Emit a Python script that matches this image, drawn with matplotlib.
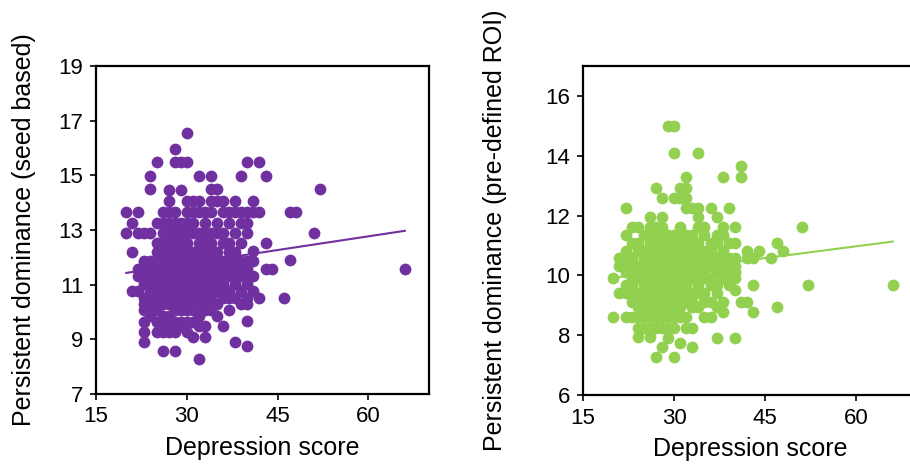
import numpy as np
import matplotlib
matplotlib.use('Agg')
import matplotlib.pyplot as plt

plt.rcParams['font.family'] = ['Liberation Sans', 'DejaVu Sans']

PURPLE = '#7030A0'
GREEN = '#92D050'

# depression score columns and the persistent-dominance values read at each score
left_scores = [20, 21, 22, 23, 24, 25, 26, 27, 28, 29, 30, 31, 32, 33, 34, 35,
               36, 37, 38, 39, 40, 41, 42, 43, 44, 46, 47, 48, 51, 52, 66]
left_values = [
    [13.66, 12.88],
    [13.25, 12.19, 10.78],
    [13.66, 12.88, 11.58, 11.3, 10.78],
    [12.88, 11.88, 11.58, 11.3, 11.03, 10.53, 10.3, 10.08, 9.65, 9.28, 8.92],
    [14.96, 14.5, 12.88, 11.88, 11.58, 11.3, 11.03, 10.78, 10.53, 10.3, 10.08, 9.86],
    [15.47, 13.25, 12.54, 12.19, 11.88, 11.58, 11.3, 11.03, 10.78, 10.53, 10.3, 10.08, 9.65, 9.28],
    [13.66, 13.25, 12.88, 12.54, 12.19, 11.88, 11.58, 11.3, 11.03, 10.78, 10.53, 10.3, 9.86, 9.47, 9.28, 8.59],
    [14.47, 14.07, 13.66, 13.25, 12.88, 12.54, 12.19, 11.88, 11.58, 11.3, 11.03, 10.78, 10.53, 10.3, 9.86, 9.47, 9.28],
    [15.97, 15.47, 13.66, 13.25, 12.88, 12.54, 12.19, 11.88, 11.58, 11.3, 11.03, 10.78, 10.53, 10.3, 10.08, 9.65, 9.28, 8.59],
    [15.47, 14.47, 13.25, 12.88, 12.54, 12.19, 11.88, 11.58, 11.3, 11.03, 10.78, 10.53, 10.3, 10.08, 9.65, 9.47],
    [16.55, 15.47, 14.07, 13.66, 13.25, 12.88, 12.54, 12.19, 11.88, 11.58, 11.3, 11.03, 10.78, 10.53, 10.3, 10.08, 9.65, 9.28],
    [14.07, 13.66, 13.25, 12.88, 12.19, 11.88, 11.58, 11.3, 11.03, 10.78, 10.53, 10.3, 10.08, 9.65, 9.1],
    [14.96, 14.07, 13.66, 12.88, 12.54, 12.19, 11.88, 11.58, 11.3, 11.03, 10.78, 10.53, 10.3, 9.86, 9.47, 8.28],
    [13.66, 13.25, 12.88, 12.54, 12.19, 11.88, 11.58, 11.3, 11.03, 10.78, 10.53, 10.3, 10.08, 9.47, 9.1],
    [14.96, 14.5, 14.07, 13.66, 12.88, 12.54, 12.19, 11.88, 11.58, 11.3, 11.03, 10.78, 10.53, 10.08],
    [14.5, 14.07, 13.25, 12.88, 12.19, 11.88, 11.58, 11.3, 11.03, 10.78, 10.3, 9.86],
    [14.07, 13.66, 12.88, 12.54, 11.88, 11.58, 11.3, 11.03, 10.78, 10.53, 9.47],
    [13.66, 13.25, 12.54, 12.19, 11.88, 11.58, 11.3, 10.78, 10.53, 10.08],
    [14.07, 13.66, 12.88, 12.19, 11.88, 11.58, 11.3, 11.03, 10.53, 8.92],
    [14.96, 13.66, 13.25, 12.54, 11.88, 11.58, 11.3, 10.78, 10.3],
    [15.47, 13.66, 13.25, 12.88, 11.88, 11.58, 11.3, 11.03, 10.53, 10.3, 9.67, 8.76],
    [14.07, 13.66, 12.24, 11.88, 11.3, 10.78],
    [15.47, 13.66, 10.53],
    [14.96, 12.54, 11.58],
    [11.58],
    [10.53],
    [13.66, 11.9],
    [13.66],
    [12.88],
    [14.5],
    [11.58],
]

right_scores = [20, 21, 22, 23, 24, 25, 26, 27, 28, 29, 30, 31, 32, 33, 34, 35,
                36, 37, 38, 39, 40, 41, 42, 43, 44, 46, 47, 48, 51, 52, 66]
right_values = [
    [9.9, 8.6],
    [10.57, 10.3, 9.4],
    [12.24, 11.35, 10.82, 10.57, 10.3, 10.1, 9.68, 9.4, 8.6],
    [11.63, 11.07, 10.57, 10.3, 9.9, 9.68, 9.4, 9.1, 8.6],
    [11.63, 11.07, 10.82, 10.3, 10.1, 9.9, 9.4, 9.1, 8.93, 8.6, 8.23, 7.95],
    [11.35, 10.82, 10.57, 10.3, 9.9, 9.68, 9.4, 9.1, 8.93, 8.6, 8.23],
    [11.94, 11.63, 11.35, 11.07, 10.82, 10.57, 10.3, 10.1, 9.9, 9.68, 9.4, 9.1, 8.93, 8.6, 8.23, 7.95],
    [12.91, 11.63, 11.35, 11.07, 10.82, 10.57, 10.3, 10.1, 9.9, 9.68, 9.4, 9.1, 8.93, 8.6, 8.23, 7.26],
    [12.58, 11.94, 11.63, 11.35, 11.07, 10.82, 10.57, 10.3, 10.1, 9.9, 9.68, 9.4, 9.1, 8.93, 8.6, 8.23, 7.62],
    [15.0, 11.35, 11.07, 10.82, 10.57, 10.3, 10.1, 9.9, 9.68, 9.4, 9.1, 8.93, 8.6, 8.23, 7.9],
    [15.0, 14.08, 12.58, 11.35, 11.07, 10.82, 10.57, 10.3, 10.1, 9.9, 9.68, 9.4, 9.1, 8.93, 8.6, 8.23, 7.26],
    [12.91, 12.58, 11.63, 11.35, 11.07, 10.82, 10.57, 10.3, 10.1, 9.9, 9.68, 9.4, 9.1, 8.93, 8.6, 7.73],
    [13.28, 12.91, 12.58, 12.24, 11.35, 11.07, 10.82, 10.57, 10.3, 10.1, 9.9, 9.68, 9.4, 9.1, 8.6, 8.23],
    [12.24, 11.35, 11.07, 10.82, 10.57, 10.3, 10.1, 9.9, 9.4, 9.1, 8.93, 8.23, 7.62],
    [14.08, 12.24, 11.94, 11.63, 11.07, 10.82, 10.57, 10.3, 10.1, 9.9, 9.68, 9.4, 8.93],
    [11.63, 11.35, 10.82, 10.57, 10.3, 10.1, 9.9, 9.4, 9.1, 8.6],
    [12.24, 11.07, 10.82, 10.57, 10.3, 9.9, 9.68, 9.1, 8.6],
    [11.94, 11.35, 11.07, 10.57, 10.3, 10.1, 9.68, 9.4, 8.93, 7.9],
    [13.28, 11.63, 11.35, 10.82, 10.57, 10.3, 10.1, 9.9, 9.1, 8.77],
    [12.24, 11.07, 10.57, 10.3, 10.1, 9.9, 9.68],
    [11.63, 11.07, 10.57, 10.3, 10.1, 9.9, 9.51, 7.9],
    [13.67, 13.28, 9.1],
    [10.82, 10.57, 9.1],
    [10.57, 9.68, 8.77],
    [10.82],
    [10.57],
    [11.07, 8.93],
    [10.82],
    [11.63],
    [9.68],
    [9.68],
]

# fitted trend lines (end points)
left_fit_x = [20, 66]
left_fit_y = [11.43, 12.97]
right_fit_x = [20, 66]
right_fit_y = [9.92, 11.13]

x_ticks = [15, 30, 45, 60]
left_yticks = [7, 9, 11, 13, 15, 17, 19]
right_yticks = [6, 8, 10, 12, 14, 16]


def flatten(scores, values):
    xs, ys = [], []
    for s, vals in zip(scores, values):
        xs.extend([s] * len(vals))
        ys.extend(vals)
    return np.array(xs), np.array(ys)


def style_ax(ax, ylim, yticks, ylabel, ypad):
    ax.set_xlim(15, 70)
    ax.set_ylim(*ylim)
    ax.set_xticks(x_ticks)
    ax.set_yticks(yticks)
    for sp in ax.spines.values():
        sp.set_linewidth(1.6)
        sp.set_color('black')
    ax.tick_params(direction='out', length=4, width=1.2, labelsize=16, pad=5)
    ax.set_xlabel('Depression score', fontsize=18, labelpad=6)
    ax.set_ylabel(ylabel, fontsize=18, labelpad=ypad)


fig = plt.figure(figsize=(9.1, 4.66), dpi=100)
ax1 = fig.add_axes([96 / 910, 72 / 466, 333 / 910, 328 / 466])
ax2 = fig.add_axes([583 / 910, 71 / 466, 334 / 910, 329 / 466])

lx, ly = flatten(left_scores, left_values)
rx, ry = flatten(right_scores, right_values)

ax1.scatter(lx, ly, s=72, color=PURPLE, linewidths=0, zorder=2)
ax1.plot(left_fit_x, left_fit_y, color=PURPLE, lw=1.5, zorder=3)
style_ax(ax1, (7, 19), left_yticks, 'Persistent dominance (seed based)', 16)

ax2.scatter(rx, ry, s=72, color=GREEN, linewidths=0, zorder=2)
ax2.plot(right_fit_x, right_fit_y, color=GREEN, lw=1.5, zorder=3)
style_ax(ax2, (6, 17), right_yticks, 'Persistent dominance (pre-defined ROI)', 28)

fig.savefig('out.png', dpi=100)
